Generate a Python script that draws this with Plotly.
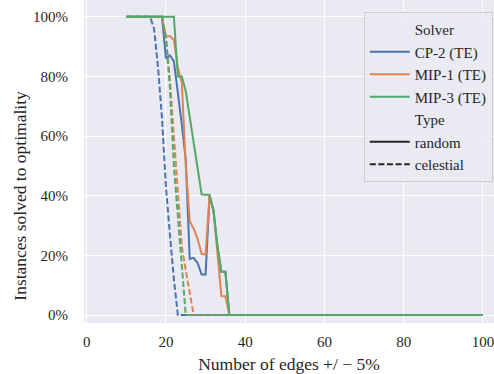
import plotly.graph_objects as go

# ---- data (percent of instances solved to optimality) ----
cp2_random_x = [10, 19, 20, 21, 22, 23, 24, 25, 26, 27, 28, 29, 30, 31, 32, 33, 34, 35, 36, 100]
cp2_random_y = [100, 100, 86, 87, 85, 75, 64, 52, 18.8, 19.2, 17.4, 13.6, 13.6, 40, 35, 23, 14.5, 14.5, 0, 0]

cp2_celestial_x = [10, 16, 17, 18, 19, 20, 21, 22, 23, 100]
cp2_celestial_y = [100, 100, 96, 83, 66, 43, 27, 12, 0, 0]

mip1_random_x = [10, 19, 20, 21, 22, 23, 24, 25, 26, 27, 28, 29, 30, 31, 32, 33, 34, 35, 36, 100]
mip1_random_y = [100, 100, 93.3, 93.5, 92.2, 83, 78, 50, 31.5, 29, 25.5, 20.5, 20.3, 40, 35, 20, 6.3, 6.3, 0, 0]

mip1_celestial_x = [10, 19, 20, 21, 22, 23, 24, 25, 26, 27, 100]
mip1_celestial_y = [100, 100, 93, 79, 60, 42, 23, 15, 8, 0, 0]

mip3_random_x = [10, 22, 23, 24, 25, 26, 27, 28, 29, 30, 31, 32, 33, 34, 35, 36, 100]
mip3_random_y = [100, 100, 80, 80, 75, 66, 58, 49, 40.5, 40.3, 40.3, 35, 23, 14.5, 14.5, 0, 0]

mip3_celestial_x = [10, 19, 20, 21, 22, 23, 24, 25, 100]
mip3_celestial_y = [100, 100, 93, 76, 50, 34, 17, 0, 0]

solvers = ["CP-2 (TE)", "MIP-1 (TE)", "MIP-3 (TE)"]
types = ["random", "celestial"]
x_ticks = [0, 20, 40, 60, 80, 100]
y_ticks = [0, 20, 40, 60, 80, 100]

# ---- styles ----
colors = {"CP-2 (TE)": "#4C72B0", "MIP-1 (TE)": "#DD8452", "MIP-3 (TE)": "#55A868"}
dashes = {"random": "solid", "celestial": "6px,2.6px"}
series = {
    ("CP-2 (TE)", "random"): (cp2_random_x, cp2_random_y),
    ("CP-2 (TE)", "celestial"): (cp2_celestial_x, cp2_celestial_y),
    ("MIP-1 (TE)", "random"): (mip1_random_x, mip1_random_y),
    ("MIP-1 (TE)", "celestial"): (mip1_celestial_x, mip1_celestial_y),
    ("MIP-3 (TE)", "random"): (mip3_random_x, mip3_random_y),
    ("MIP-3 (TE)", "celestial"): (mip3_celestial_x, mip3_celestial_y),
}

FONT = "Liberation Serif"
TEXT = "#262626"

fig = go.Figure()
for s in solvers:
    for t in types:
        xs, ys = series[(s, t)]
        fig.add_trace(go.Scatter(
            x=xs, y=ys, mode="lines", showlegend=False, hoverinfo="skip",
            line=dict(color=colors[s], width=2, dash=dashes[t]),
        ))

# legend entries (seaborn-style: headings as handle-less entries)
def legend_entry(name, color, dash="solid"):
    fig.add_trace(go.Scatter(x=[None], y=[None], mode="lines", name=name,
                             line=dict(color=color, width=2, dash=dash)))

legend_entry("Solver", "rgba(0,0,0,0)")
for s in solvers:
    legend_entry(s, colors[s])
legend_entry("Type", "rgba(0,0,0,0)")
legend_entry("random", "#262626")
legend_entry("celestial", "#262626", dashes["celestial"])

fig.update_layout(
    width=494, height=374,
    margin=dict(l=84, r=0, t=0, b=51),
    paper_bgcolor="white", plot_bgcolor="#EAEAF2",
    font=dict(family=FONT, size=15, color=TEXT),
    showlegend=True,
    legend=dict(
        x=0.997, y=(322.7 - 12) / 322.7, xanchor="right", yanchor="top",
        bgcolor="rgba(234,234,242,0.8)", bordercolor="#CCCCCC", borderwidth=1,
        font=dict(family=FONT, size=15, color=TEXT),
        traceorder="normal", itemwidth=40,
    ),
    xaxis=dict(
        range=[-0.68, 102.78], tickvals=x_ticks, ticktext=[str(v) for v in x_ticks],
        showgrid=True, gridcolor="white", gridwidth=1.3, zeroline=False,
        showline=False, ticks="", ticklabelstandoff=8, ticklabeloverflow="allow",
        title=dict(text="Number of edges +/ \u2212 5%", standoff=8,
                   font=dict(family=FONT, size=17.5, color=TEXT)),
    ),
    yaxis=dict(
        range=[-2.65, 105.6], tickvals=y_ticks, ticktext=[f"{v}%" for v in y_ticks],
        showgrid=True, gridcolor="white", gridwidth=1.3, zeroline=False,
        showline=False, ticks="", ticklabelstandoff=15,
    ),
    annotations=[dict(
        text="Instances solved to optimality", textangle=-90,
        xref="paper", yref="paper", x=(20.5 - 84) / 410, y=(322.7 - 196) / 322.7,
        xanchor="center", yanchor="middle", showarrow=False,
        font=dict(family=FONT, size=17.5, color=TEXT),
    )],
)

fig.write_html("out.html", config={"displayModeBar": False},
               post_script="document.body.style.margin='0';")
